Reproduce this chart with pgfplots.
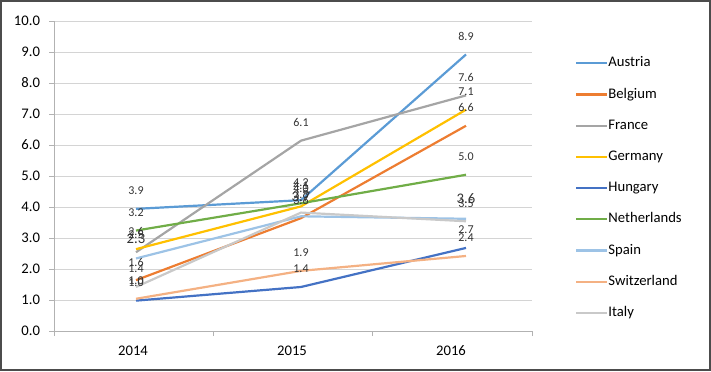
\documentclass[border=0pt]{standalone}
\usepackage{pgfplots}
\pgfplotsset{compat=1.18}
\usepackage{pgfplotstable}
\usepackage{fontspec}
\setmainfont{Carlito}
\definecolor{cAus}{HTML}{5B9BD5}
\definecolor{cBel}{HTML}{ED7D31}
\definecolor{cFra}{HTML}{A5A5A5}
\definecolor{cGer}{HTML}{FFC000}
\definecolor{cHun}{HTML}{4472C4}
\definecolor{cNet}{HTML}{70AD47}
\definecolor{cSpa}{HTML}{9DC3E6}
\definecolor{cSwi}{HTML}{F4B183}
\definecolor{cIta}{HTML}{C9C9C9}
\pgfplotstableread{
x Austria Belgium France Germany Hungary Netherlands Spain Switzerland Italy
0 3.94 1.64 2.54 2.64 0.98 3.24 2.34 1.04 1.42
1 4.22 3.64 6.14 4.02 1.42 4.12 3.70 1.94 3.82
2 8.92 6.62 7.60 7.14 2.68 5.04 3.62 2.42 3.54
}\data
\begin{document}
\begin{tikzpicture}[x=1bp,y=1bp]
\useasboundingbox (0,0) rectangle (711,371);
\begin{axis}[
 at={(54bp,40bp)}, anchor=south west,
 scale only axis, width=478bp, height=310bp,
 xmin=-0.49697, xmax=2.4, ymin=0, ymax=10,
 axis x line*=bottom, axis y line*=left,
 axis line style={draw=black!30, line width=0.8bp},
 ytick={0,1,...,10},
 /pgf/number format/assume math mode=true,
 xtick={-0.0182,0.9455,1.9091},
 xticklabels={2014,2015,2016},
 minor xtick={-0.49697,0.46667,1.43030,2.4},
 major x tick style={draw=none},
 tick align=outside,
 major tick length=5bp, minor tick length=5bp,
 tick style={black!30, line width=0.8bp},
 ymajorgrids, grid style={black!17, line width=0.8bp},
 tick label style={font=\fontsize{14.67bp}{16bp}\selectfont, text=black},
 yticklabel style={xshift=-5.5bp, /pgf/number format/.cd, fixed, fixed zerofill, precision=1},
 xticklabel style={yshift=-6.5bp},
 clip=false,
 every axis plot/.append style={line width=2.2bp, line join=round},
 nodes near coords={\pgfmathprintnumber[fixed,fixed zerofill,precision=1]{\pgfplotspointmeta}},
 every node near coord/.append style={font=\fontsize{12bp}{14bp}\selectfont, text=black!80, anchor=center, yshift=18bp},
 legend style={at={(1.0900,0.885)}, anchor=north west, draw=none, fill=none,
   font=\fontsize{14.67bp}{16bp}\selectfont, inner sep=0pt, row sep=18.2bp,
   nodes={inner sep=0pt, text height=10bp, text depth=3bp},
   /tikz/every even column/.append style={column sep=3bp}},
 legend cell align=left,
 legend image code/.code={\draw[#1] (0bp,0bp) -- (31bp,0bp);},
]
\addplot[cAus] table[x=x,y=Austria]{\data};
\addlegendentry{Austria}
\addplot[cBel] table[x=x,y=Belgium]{\data};
\addlegendentry{Belgium}
\addplot[cFra] table[x=x,y=France]{\data};
\addlegendentry{France}
\addplot[cGer] table[x=x,y=Germany]{\data};
\addlegendentry{Germany}
\addplot[cHun] table[x=x,y=Hungary]{\data};
\addlegendentry{Hungary}
\addplot[cNet] table[x=x,y=Netherlands]{\data};
\addlegendentry{Netherlands}
\addplot[cSpa, every node near coord/.append style={font=\fontsize{14.67bp}{16bp}\selectfont, yshift=2bp}] table[x=x,y=Spain]{\data};
\addlegendentry{Spain}
\addplot[cSwi] table[x=x,y=Switzerland]{\data};
\addlegendentry{Switzerland}
\addplot[cIta] table[x=x,y=Italy]{\data};
\addlegendentry{Italy}
\end{axis}
\draw[line width=2bp, black!70] (1,1) rectangle (710,370);
\end{tikzpicture}
\end{document}
